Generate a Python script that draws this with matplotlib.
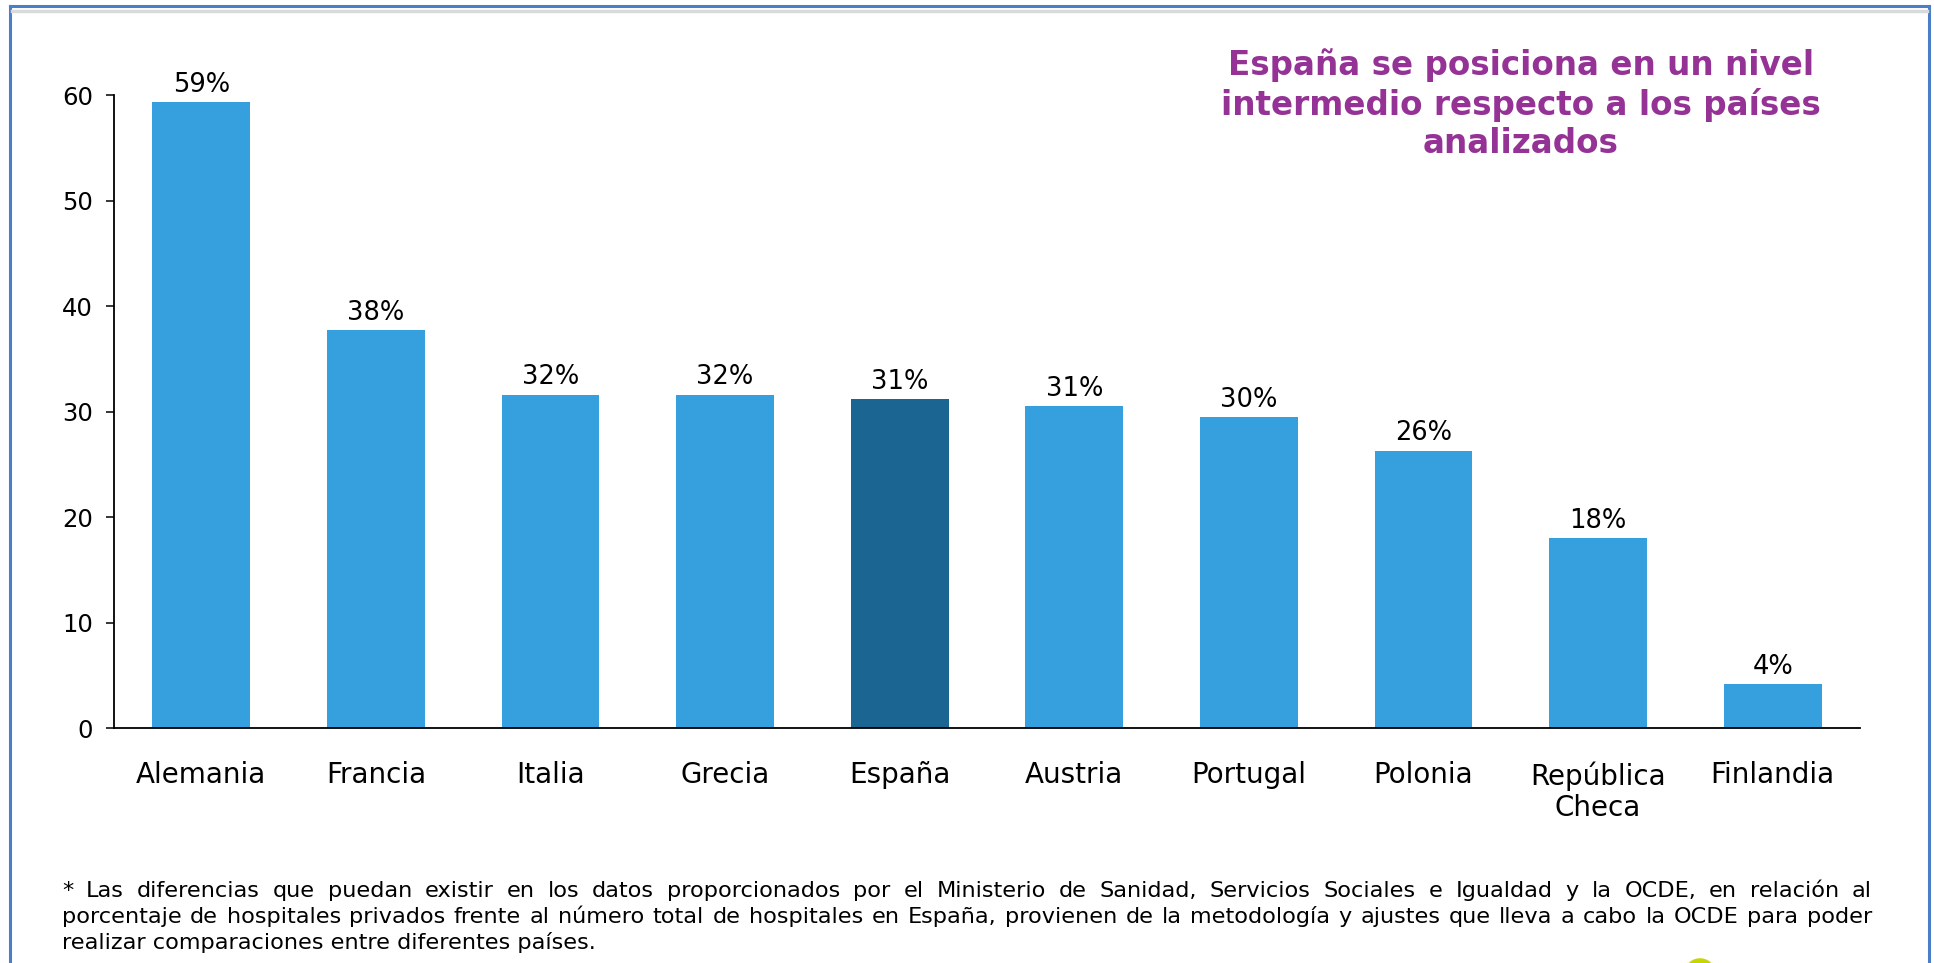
import matplotlib
matplotlib.use("Agg")
import numpy as np
import matplotlib.pyplot as plt
from matplotlib.lines import Line2D
from matplotlib.patches import Ellipse

W, H = 1934, 963
my_dpi = 100

countries = ["Alemania", "Francia", "Italia", "Grecia", "España", "Austria",
             "Portugal", "Polonia", "República\nCheca", "Finlandia"]
values = [59.3, 37.7, 31.6, 31.6, 31.2, 30.5, 29.5, 26.3, 18.0, 4.2]
pct_labels = ["59%", "38%", "32%", "32%", "31%", "31%", "30%", "26%", "18%", "4%"]
highlight = "España"

title = "España se posiciona en un nivel\nintermedio respecto a los países\nanalizados"
note_lines = [
    "* Las diferencias que puedan existir en los datos proporcionados por el Ministerio de "
    "Sanidad, Servicios Sociales e Igualdad y la OCDE, en relación al",
    "porcentaje de hospitales privados frente al número total de hospitales en España, "
    "provienen de la metodología y ajustes que lleva a cabo la OCDE para poder",
    "realizar comparaciones entre diferentes países.",
]

LIGHT = "#369FDD"
DARK = "#1A6592"
PURPLE = "#953296"


def fx(px):
    return px / W


def fy(py):
    return 1 - py / H


fig = plt.figure(figsize=(W / my_dpi, H / my_dpi), dpi=my_dpi)
ax = fig.add_axes([fx(114), fy(728), fx(1860) - fx(114), fy(95) - fy(728)])

x = np.arange(len(countries))
colors = [DARK if c == highlight else LIGHT for c in countries]
bars = ax.bar(x, values, width=0.56, color=colors, zorder=2)

for b, lab in zip(bars, pct_labels):
    ax.annotate(lab, (b.get_x() + b.get_width() / 2, b.get_height()),
                xytext=(0, 3), textcoords="offset points",
                ha="center", va="bottom", fontsize=18.5, color="black")

ax.set_xlim(-0.5, len(countries) - 0.5)
ax.set_ylim(0, 60)
ax.set_yticks([0, 10, 20, 30, 40, 50, 60])
ax.set_xticks(x)
ax.set_xticklabels(countries, fontsize=20, linespacing=1.15)
ax.tick_params(axis="x", length=0, pad=24)
ax.tick_params(axis="y", length=6, width=1.1, pad=9, labelsize=17.5)
for s in ["top", "right"]:
    ax.spines[s].set_visible(False)
for s in ["left", "bottom"]:
    ax.spines[s].set_linewidth(1.3)
    ax.spines[s].set_color("black")

# title block, top right
fig.text(fx(1521), fy(104), title, ha="center", va="center", fontsize=23.5,
         fontweight="bold", color=PURPLE, linespacing=1.2)

# justified footnote
renderer = fig.canvas.get_renderer()


def text_width(s, size):
    t = fig.text(0, 0, s, fontsize=size)
    w = t.get_window_extent(renderer).width
    t.remove()
    return w


x_left, x_right = 62, 1872
# size the note so that the second line nearly fills the box width
FS = 10 * 1780 / text_width(note_lines[1], 10)
baselines = [897, 923, 949]
for i, line in enumerate(note_lines):
    yb = fy(baselines[i])
    if i == len(note_lines) - 1:
        fig.text(fx(x_left), yb, line, fontsize=FS, va="baseline", ha="left")
        continue
    words = line.split(" ")
    widths = [text_width(w, FS) for w in words]
    gap = (x_right - x_left - sum(widths)) / (len(words) - 1)
    cur = x_left
    for w, ww in zip(words, widths):
        fig.text(fx(cur), yb, w, fontsize=FS, va="baseline", ha="left")
        cur += ww + gap

# slide frame
frame = "#4A7EC8"
fig.add_artist(Line2D([fx(10), fx(10)], [fy(6), fy(H + 5)], color=frame, lw=2.2,
                      transform=fig.transFigure))
fig.add_artist(Line2D([fx(10), fx(1929)], [fy(6), fy(6)], color=frame, lw=2.2,
                      transform=fig.transFigure))
fig.add_artist(Line2D([fx(1929), fx(1929)], [fy(6), fy(H + 5)], color=frame, lw=2.2,
                      transform=fig.transFigure))
fig.add_artist(Line2D([fx(12), fx(1927)], [fy(11), fy(11)], color="#DADADA", lw=2.5,
                      transform=fig.transFigure))

# partial logo blob at the bottom edge
fig.add_artist(Ellipse((fx(1700), fy(972)), fx(34), 26 / H, color="#F2F7C8",
                       transform=fig.transFigure))
fig.add_artist(Ellipse((fx(1700), fy(970)), fx(26), 22 / H, color="#C5D600",
                       transform=fig.transFigure))

plt.savefig("out.png", dpi=my_dpi)
